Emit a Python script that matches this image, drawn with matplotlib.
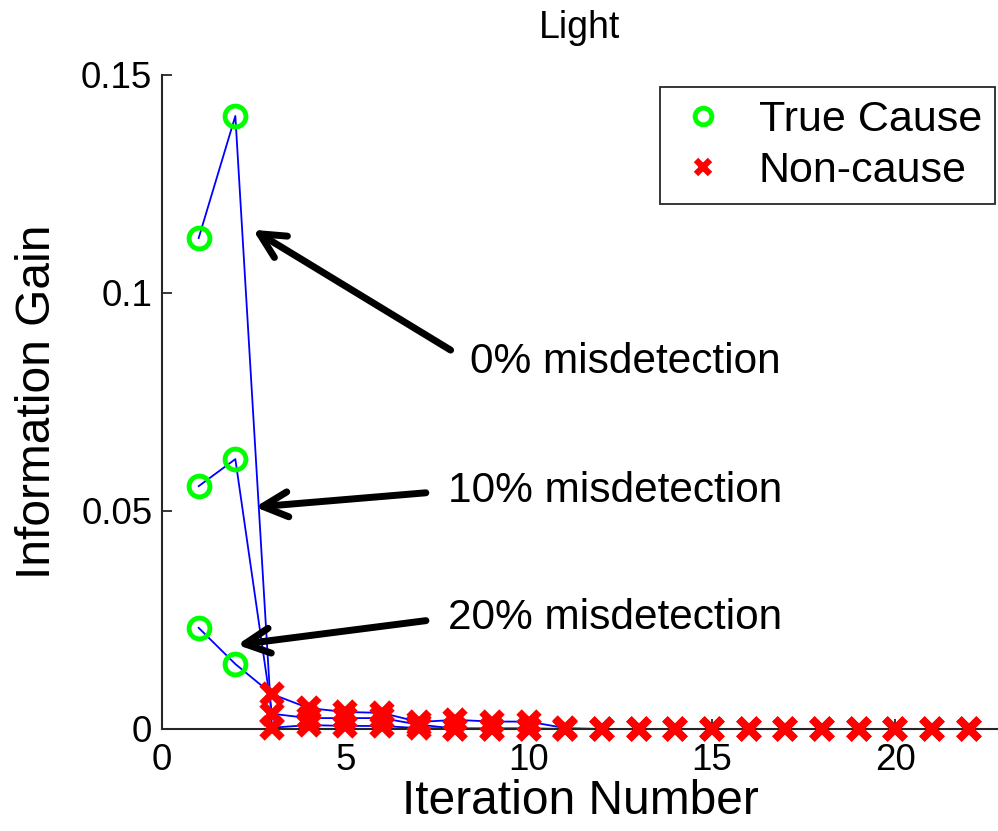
import matplotlib.pyplot as plt
from matplotlib.lines import Line2D
import numpy as np

plt.rcParams['font.family'] = ['Liberation Sans', 'DejaVu Sans']

# Information gain per iteration for each misdetection rate
iterations = list(range(1, 23))
gain_0 = [0.1126, 0.1406, 0.0003, 0.0009, 0.0007, 0.0007, 0.0002, 0.0001, 0.0001, 0.0001, 0.0,
          0.0, 0.0, 0.0, 0.0, 0.0, 0.0, 0.0, 0.0, 0.0, 0.0, 0.0]
gain_10 = [0.0557, 0.0619, 0.0035, 0.0025, 0.0025, 0.0025, 0.0010, 0.0001, 0.0001, 0.0001, 0.0,
           0.0, 0.0, 0.0, 0.0, 0.0, 0.0, 0.0, 0.0, 0.0, 0.0, 0.0]
gain_20 = [0.0232, 0.0149, 0.0080, 0.0048, 0.0039, 0.0037, 0.0016, 0.0021, 0.0017, 0.0017, 0.0002,
           0.0, 0.0, 0.0, 0.0, 0.0, 0.0, 0.0, 0.0, 0.0, 0.0, 0.0]
series = [gain_0, gain_10, gain_20]
cause_iters = [1, 2]  # iterations where the true cause was picked

labels = ["0% misdetection", "10% misdetection", "20% misdetection"]
arrow_tips = [(2.48, 0.1145), (2.54, 0.0509), (2.05, 0.0193)]
label_pos = [(8.4, 0.0842), (7.8, 0.0546), (7.8, 0.0255)]

yticks = [0, 0.05, 0.1, 0.15]
ytick_labels = ["0", "0.05", "0.1", "0.15"]
xticks = [0, 5, 10, 15, 20]

green = (0, 1, 0)
red = (1, 0, 0)

fig = plt.figure(figsize=(9.98, 8.31), dpi=100)
ax = fig.add_axes([162 / 998, 102 / 831, 836 / 998, 654 / 831])

x = np.array(iterations)
is_cause = np.isin(x, cause_iters)
for vals in series:
    y = np.array(vals)
    ax.plot(x, y, color='blue', lw=1.3, zorder=2)
    ax.plot(x[~is_cause], y[~is_cause], ls='none', marker='x', ms=14, mew=5.5,
            color=red, clip_on=False, zorder=3)
    ax.plot(x[is_cause], y[is_cause], ls='none', marker='o', ms=15, mew=3.5,
            mfc='none', mec=green, clip_on=False, zorder=3)

for text, tip, pos in zip(labels, arrow_tips, label_pos):
    ax.annotate(text, xy=tip, xytext=pos, fontsize=30.5, ha='left', va='center',
                arrowprops=dict(arrowstyle='->', lw=5, color='black', relpos=(0, 0.5),
                                mutation_scale=45, shrinkA=14, shrinkB=0))

ax.set_xlim(0, 22.8)
ax.set_ylim(0, 0.15)
ax.set_xticks(xticks)
ax.set_yticks(yticks)
ax.set_yticklabels(ytick_labels)
ax.tick_params(direction='in', length=7, width=1.3, labelsize=26.5, color='#262626')
ax.tick_params(axis='x', pad=10)
ax.tick_params(axis='y', pad=7)
for side in ['top', 'right']:
    ax.spines[side].set_visible(False)
for side in ['left', 'bottom']:
    ax.spines[side].set_linewidth(1.5)
    ax.spines[side].set_color('#262626')

ax.set_title("Light", fontsize=27, pad=27)
ax.set_xlabel("Iteration Number", fontsize=34.5, labelpad=1)
ax.set_ylabel("Information Gain", fontsize=34.5, labelpad=15)

handles = [
    Line2D([], [], ls='none', marker='o', ms=12, mew=3.5, mfc='none', mec=green),
    Line2D([], [], ls='none', marker='x', ms=10, mew=4.5, color=red),
]
leg = ax.legend(handles, ["True Cause", "Non-cause"], loc='upper right',
                bbox_to_anchor=(995 / 998, 744 / 831), bbox_transform=fig.transFigure,
                fontsize=31, fancybox=False, edgecolor='#262626', framealpha=1,
                borderpad=0.3, handletextpad=0.6, labelspacing=0.25,
                handlelength=1.4, borderaxespad=0)
leg.get_frame().set_linewidth(1.3)

fig.savefig("out.png", dpi=100)
